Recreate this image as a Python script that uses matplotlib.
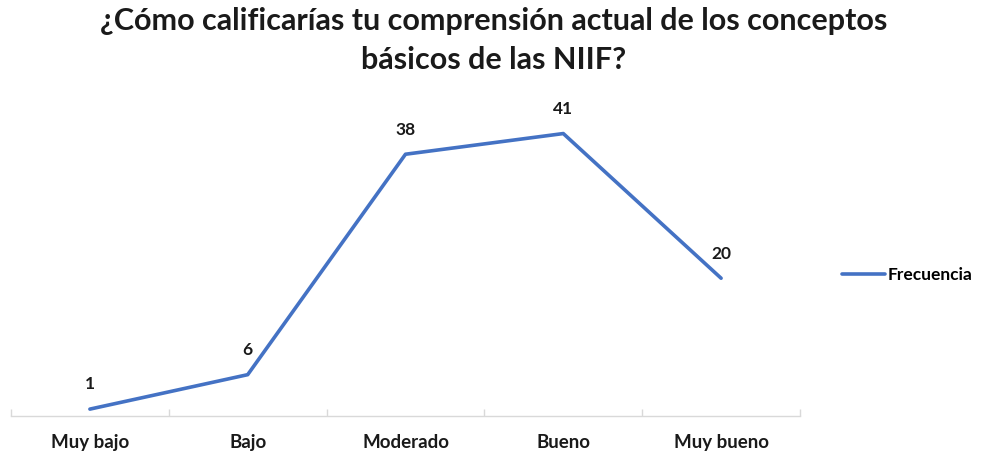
import matplotlib
matplotlib.use("Agg")
import matplotlib.pyplot as plt

categories = ["Muy bajo", "Bajo", "Moderado", "Bueno", "Muy bueno"]
values = [1, 6, 38, 41, 20]
series_name = "Frecuencia"
title = "¿Cómo calificarías tu comprensión actual de los conceptos\nbásicos de las NIIF?"

plt.rcParams['font.family'] = ['Lato', 'DejaVu Sans']

fig = plt.figure(figsize=(9.82, 4.54), dpi=100)
ax = fig.add_axes([11/982, 38/454, 789/982, 310/454])

x = list(range(len(categories)))
line, = ax.plot(x, values, color="#4472C4", linewidth=2.6, solid_capstyle='round', label=series_name)
for xi, v in zip(x, values):
    ax.annotate(str(v), (xi, v), xytext=(0, 12), textcoords="offset points",
                ha="center", va="bottom", fontsize=12.5, fontweight="bold", color="#1a1a1a")

ax.set_xlim(-0.5, len(categories) - 0.5)
ax.set_ylim(0, 45)
ax.set_yticks([])
ax.set_xticks(x)
ax.set_xticklabels(categories, fontsize=13.5, fontweight="bold", color="#1a1a1a")
ax.set_xticks([i - 0.5 for i in range(len(categories) + 1)], minor=True)
ax.tick_params(axis='x', which='major', length=0, pad=13)
ax.tick_params(axis='x', which='minor', length=5, color="#d9d9d9", width=1, direction='in')
for s in ["top", "left", "right"]:
    ax.spines[s].set_visible(False)
ax.spines["bottom"].set_color("#d9d9d9")
ax.spines["bottom"].set_linewidth(1)

fig.text(0.503, 0.985, title, ha="center", va="top", fontsize=22, fontweight="bold",
         color="#1a1a1a", linespacing=1.5)

leg = fig.legend(handles=[line], loc="center left", bbox_to_anchor=(826/982, 1 - 275/454),
                 frameon=False, fontsize=12.5, handlelength=2.5, handletextpad=0.15)
for t in leg.get_texts():
    t.set_fontweight("bold")

fig.savefig("out.png", dpi=100)
